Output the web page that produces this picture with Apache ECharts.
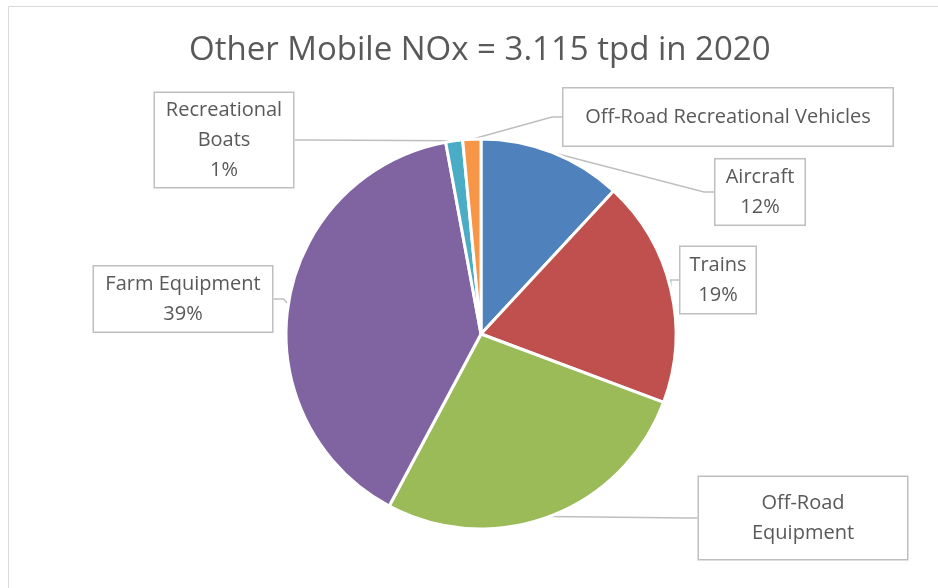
<!DOCTYPE html>
<html>
<head>
<meta charset="utf-8">
<script src="https://cdn.jsdelivr.net/npm/echarts@6/dist/echarts.min.js"></script>
<style>
  html, body { margin: 0; padding: 0; background: #fff; }
  #chart { width: 938px; height: 588px; }
</style>
</head>
<body>
<div id="chart"></div>
<script>
// Slice data, clockwise from 12 o'clock (percent of 3.115 tpd)
var categories = ['Aircraft', 'Trains', 'Off-Road Equipment', 'Farm Equipment', 'Recreational Boats', 'Off-Road Recreational Vehicles'];
var shares = [11.9, 18.8, 27.1, 39.3, 1.4, 1.5];
// label text as shown in the callouts ({d} = rounded percent)
var labelText = ['Aircraft\n{d}%', 'Trains\n{d}%', 'Off-Road\nEquipment', 'Farm Equipment\n{d}%', 'Recreational\nBoats\n{d}%', 'Off-Road Recreational Vehicles'];
var titleText = 'Other Mobile NOx = 3.115 tpd in 2020';

var colors = ['#4F81BD', '#C0504D', '#9BBB59', '#8064A2', '#4BACC6', '#F79646'];

// callout boxes: centre x, centre y, width, height
var calloutBoxes = [
    [760, 192, 91, 67],
    [718, 280, 77, 68],
    [803, 518, 210, 84],
    [183, 299, 180, 67],
    [224, 140, 140, 96],
    [728, 117, 331, 59]
];

var myChart = echarts.init(document.getElementById('chart'), null, { renderer: 'canvas' });

var seriesData = [];
for (var i = 0; i < categories.length; i++) {
    var box = calloutBoxes[i];
    seriesData.push({
        name: categories[i],
        value: shares[i],
        itemStyle: { color: colors[i] },
        label: {
            formatter: labelText[i],
            width: box[2] - 2,
            height: box[3] - 2
        }
    });
}

var option = {
    backgroundColor: '#ffffff',
    animation: false,
    title: {
        text: titleText,
        left: 184,
        top: 29,
        textStyle: {
            fontFamily: 'Open Sans',
            fontWeight: 'normal',
            fontSize: 33,
            color: '#595959'
        }
    },
    graphic: [
        {
            type: 'rect',
            shape: { x: 8.5, y: 6.5, width: 1000, height: 1000 },
            style: { fill: null, stroke: '#d9d9d9', lineWidth: 1 },
            silent: true
        }
    ],
    series: [
        {
            type: 'pie',
            center: [481, 334],
            radius: [0, 195],
            startAngle: 90,
            clockwise: true,
            percentPrecision: 0,
            avoidLabelOverlap: false,
            itemStyle: { borderColor: '#ffffff', borderWidth: 3 },
            label: {
                show: true,
                position: 'outside',
                fontFamily: 'Open Sans',
                fontSize: 20,
                lineHeight: 30,
                color: '#595959',
                align: 'center',
                verticalAlign: 'middle',
                backgroundColor: '#ffffff',
                borderColor: '#bfbfbf',
                borderWidth: 1.5,
                padding: 0
            },
            labelLine: {
                show: true,
                length: 6,
                length2: 10,
                smooth: false,
                lineStyle: { color: '#bfbfbf', width: 1.5 }
            },
            labelLayout: function (params) {
                var box = calloutBoxes[params.dataIndex];
                return {
                    x: box[0],
                    y: box[1],
                    align: 'center',
                    verticalAlign: 'middle',
                    moveOverlap: null
                };
            },
            emphasis: { disabled: true },
            data: seriesData
        }
    ]
};

myChart.setOption(option);
</script>
</body>
</html>
